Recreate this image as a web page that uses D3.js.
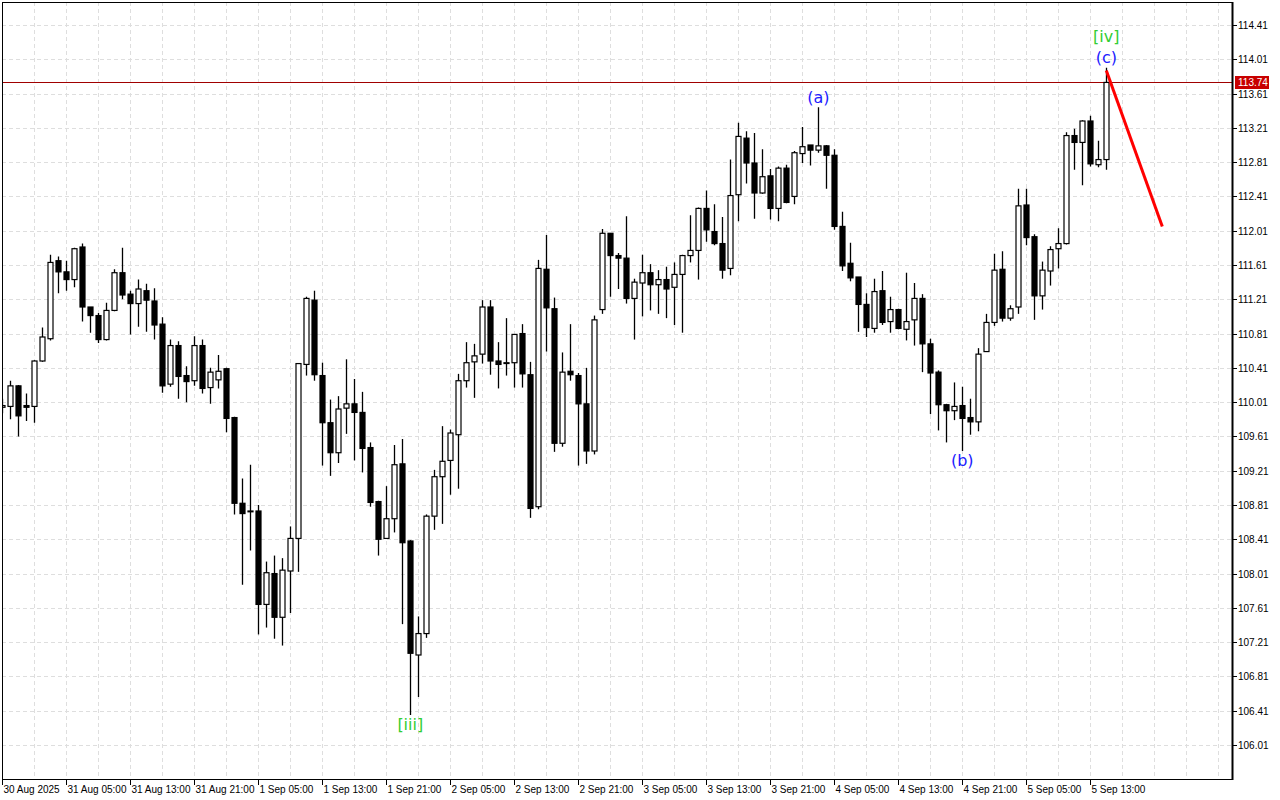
<!DOCTYPE html>
<html><head><meta charset="utf-8">
<script src="https://cdn.jsdelivr.net/npm/d3@7"></script>
<style>html,body{margin:0;padding:0;background:#fff;} svg{display:block}</style>
</head><body><svg id="c" width="1280" height="800"></svg>
<script>
// ---- data (hourly bars) ----
const startTime = "2025-08-30T21:00:00Z";
const open = [109.95,109.96,110.20,109.97,109.96,110.49,110.75,111.66,111.53,111.44,
111.82,111.12,111.02,110.74,111.08,111.52,111.27,111.16,111.31,111.19,
110.92,110.22,110.67,110.32,110.26,110.67,110.18,110.27,110.40,109.83,
108.83,108.74,108.74,107.65,108.01,107.50,108.04,108.42,110.45,111.20,
110.32,109.77,109.42,109.94,109.99,109.89,109.48,108.85,108.42,108.65,
109.29,108.39,107.06,107.31,108.68,109.14,109.33,109.63,110.26,110.48,
110.57,111.12,110.49,110.47,110.47,110.81,110.33,108.79,111.56,111.10,
109.53,110.37,110.32,109.99,109.44,111.09,111.98,111.72,111.69,111.22,
111.40,111.52,111.38,111.44,111.35,111.50,111.72,111.78,112.27,112.00,
111.86,111.57,112.43,113.09,112.80,112.45,112.65,112.27,112.74,112.41,
112.91,113.01,112.95,113.00,112.89,112.06,111.63,111.47,111.15,110.87,
111.31,110.95,111.09,110.86,110.97,111.22,110.69,110.36,109.98,109.91,
109.97,109.83,109.78,110.60,110.94,111.56,110.99,111.12,112.31,111.94,
111.25,111.54,111.80,111.86,113.12,113.04,113.29,112.78,112.84];
const high = [110.05,110.26,110.21,110.11,110.50,110.88,111.73,111.71,111.66,111.81,
111.86,111.12,111.05,111.17,111.56,111.81,111.31,111.44,111.39,111.34,
111.00,110.74,110.72,110.43,110.78,110.74,110.41,110.56,110.41,109.84,
109.12,109.28,108.81,108.15,108.22,108.19,108.56,110.46,111.24,111.31,
110.47,110.04,110.08,110.51,110.28,110.13,109.54,108.86,109.03,109.51,
109.58,108.40,107.51,108.70,109.22,109.73,109.69,110.34,110.71,110.69,
111.20,111.20,110.71,110.99,110.80,110.92,110.48,111.67,111.96,111.23,
110.59,110.92,110.35,110.41,111.02,112.03,111.98,111.75,112.18,111.45,
111.73,111.62,111.55,111.59,111.64,111.73,112.19,112.28,112.48,112.32,
112.17,112.84,113.27,113.17,113.15,112.96,112.73,112.76,112.78,112.94,
113.22,113.01,113.45,113.01,112.96,112.23,111.87,111.47,111.28,111.45,
111.54,111.24,111.10,111.52,111.40,111.27,110.75,110.38,109.99,110.24,
110.19,110.05,110.64,111.04,111.74,111.77,111.14,112.50,112.50,111.97,
111.65,111.83,112.04,113.16,113.20,113.30,113.35,113.06,113.91];
const low = [109.88,109.81,109.61,109.79,109.77,110.48,110.73,111.28,111.31,111.35,
110.95,110.82,110.70,110.73,111.07,111.21,110.80,110.89,110.83,110.74,
110.12,110.19,110.05,110.01,110.20,110.11,109.99,110.17,109.66,108.70,
107.88,108.28,107.30,107.38,107.25,107.17,107.55,108.03,110.32,110.26,
109.27,109.15,109.30,109.64,109.33,109.19,108.79,108.22,108.42,108.49,
107.42,106.36,106.57,107.26,108.52,108.59,108.93,109.00,110.18,110.06,
110.46,110.33,110.17,110.32,110.18,110.18,108.66,108.76,110.60,109.43,
109.49,110.26,109.27,109.29,109.40,111.04,111.24,111.33,111.16,110.74,
111.01,111.08,111.04,110.99,110.91,110.82,111.64,111.44,111.88,111.84,
111.45,111.49,112.12,112.56,112.15,112.44,112.14,112.12,112.33,112.32,
112.80,112.77,112.92,112.50,112.02,111.54,111.42,110.83,110.77,110.82,
110.91,110.82,110.86,110.73,110.67,110.36,109.87,109.68,109.54,109.80,
109.44,109.63,109.67,110.60,110.90,110.95,110.96,111.04,111.84,110.97,
111.09,111.37,111.57,111.85,112.72,112.54,112.76,112.75,112.72];
const close = [109.97,110.20,109.85,109.95,110.49,110.77,111.64,111.53,111.44,111.80,
111.12,111.02,110.74,111.08,111.52,111.26,111.16,111.33,111.20,110.91,
110.20,110.67,110.31,110.25,110.67,110.17,110.36,110.37,109.82,108.83,
108.71,108.74,107.65,108.02,107.50,108.05,108.42,110.46,111.22,110.33,
109.77,109.42,109.93,109.99,109.89,109.47,108.84,108.41,108.65,109.28,
108.37,107.08,107.31,108.68,109.14,109.32,109.65,110.26,110.47,110.55,
111.12,110.49,110.45,110.47,110.80,110.34,108.77,111.57,111.11,109.53,
110.36,110.33,109.99,109.44,110.97,111.98,111.72,111.69,111.22,111.41,
111.52,111.38,111.44,111.33,111.50,111.72,111.78,112.27,112.02,111.86,
111.55,112.42,113.11,112.80,112.45,112.64,112.27,112.74,112.34,112.92,
112.99,112.95,113.00,112.89,112.06,111.60,111.46,111.15,110.88,111.30,
110.94,111.09,110.87,110.95,111.22,110.69,110.35,109.98,109.91,109.96,
109.82,109.78,110.57,110.94,111.55,110.99,111.10,112.30,111.93,111.25,
111.55,111.79,111.86,113.12,113.04,113.29,112.79,112.84,113.74];

const yTickValues = [106.01,106.41,106.81,107.21,107.61,108.01,108.41,108.81,109.21,109.61,110.01,
110.41,110.81,111.21,111.61,112.01,112.41,112.81,113.21,113.61,114.01,114.41];
const xTickLabels = ["30 Aug 2025","31 Aug 05:00","31 Aug 13:00","31 Aug 21:00","1 Sep 05:00","1 Sep 13:00",
"1 Sep 21:00","2 Sep 05:00","2 Sep 13:00","2 Sep 21:00","3 Sep 05:00","3 Sep 13:00","3 Sep 21:00",
"4 Sep 05:00","4 Sep 13:00","4 Sep 21:00","5 Sep 05:00","5 Sep 13:00"];
const currentPrice = 113.74;

const waveText  = ["[iii]","(a)","(b)","(c)","[iv]"];
const waveBar   = [51,102,120,138,138];
const waveSide  = ["below","above","below","above","above"];
const waveLevel = [0,0,0,0,1];
const waveColor = ["#32cd32","#2020ff","#2020ff","#2020ff","#32cd32"];

const projBars   = [138,145];
const projPrices = [113.88,112.06];

// ---- layout ----
const L = 2, R = 1232, T = 2, B = 779;
const HOUR = 3600e3;
const t0 = new Date(startTime);
const barTime = i => new Date(+t0 + i*HOUR);

const x = d3.scaleUtc().domain([t0, barTime(150)]).range([2.3, 1202.3]);
const y = d3.scaleLinear().domain([106.01, 114.41]).range([745, 25]);

const svg = d3.select("#c");
svg.append("defs").append("clipPath").attr("id","clip")
  .append("rect").attr("x",L+0.5).attr("y",T).attr("width",R-L-0.5).attr("height",B-T);

const plot = svg.append("g").attr("clip-path","url(#clip)");

// grid
const gridCol = "#dedede";
const vgrid = d3.range(0, 40).map(k => barTime(4*k)).filter(t => x(t) < R);
plot.append("g").selectAll("line").data(vgrid).join("line")
  .attr("x1", d => Math.round(x(d))+0.5).attr("x2", d => Math.round(x(d))+0.5)
  .attr("y1", T).attr("y2", B)
  .attr("stroke", gridCol).attr("stroke-dasharray","4,3");
plot.append("g").selectAll("line").data(yTickValues).join("line")
  .attr("x1", L).attr("x2", R)
  .attr("y1", d => Math.round(y(d))+0.5).attr("y2", d => Math.round(y(d))+0.5)
  .attr("stroke", gridCol).attr("stroke-dasharray","4,3");

// current price line
plot.append("line").attr("x1",L).attr("x2",R)
  .attr("y1",Math.round(y(currentPrice))+0.5).attr("y2",Math.round(y(currentPrice))+0.5)
  .attr("stroke","#a00000").attr("stroke-width",1);

// candles
const bars = d3.range(open.length).map(i => ({i, t: barTime(i), o: open[i], h: high[i], l: low[i], c: close[i]}));
const cg = plot.append("g").selectAll("g").data(bars).join("g");
cg.append("line")
  .attr("x1", d => Math.round(x(d.t))+0.5).attr("x2", d => Math.round(x(d.t))+0.5)
  .attr("y1", d => y(d.h)).attr("y2", d => y(d.l))
  .attr("stroke","#000").attr("stroke-width",1.3);
cg.append("rect")
  .attr("x", d => Math.round(x(d.t))-2.5+0.5)
  .attr("width", 5)
  .attr("y", d => y(Math.max(d.o,d.c)))
  .attr("height", d => Math.max(0.8, Math.abs(y(d.o)-y(d.c))))
  .attr("fill", d => d.c >= d.o ? "#fff" : "#000")
  .attr("stroke","#000").attr("stroke-width",1.2);

// projection line
plot.append("line")
  .attr("x1", x(barTime(projBars[0]))).attr("y1", y(projPrices[0]))
  .attr("x2", x(barTime(projBars[1]))).attr("y2", y(projPrices[1]))
  .attr("stroke","#ff0000").attr("stroke-width",3);

// wave labels
svg.append("g").selectAll("text").data(waveText).join("text")
  .attr("x", (d,k) => x(barTime(waveBar[k])))
  .attr("y", (d,k) => waveSide[k] === "above"
      ? y(high[waveBar[k]]) - 10 - waveLevel[k]*21
      : y(low[waveBar[k]]) + 9)
  .attr("text-anchor","middle").attr("dominant-baseline","central")
  .attr("font-family","DejaVu Sans, sans-serif").attr("font-size",16)
  .attr("fill",(d,k) => waveColor[k])
  .text(d => d);

// frame
svg.append("line").attr("x1",L).attr("x2",R).attr("y1",T+0.5).attr("y2",T+0.5).attr("stroke","#000");
svg.append("line").attr("x1",L+0.5).attr("x2",L+0.5).attr("y1",T).attr("y2",B).attr("stroke","#000");
svg.append("line").attr("x1",L).attr("x2",R+1).attr("y1",B+0.5).attr("y2",B+0.5).attr("stroke","#000");
svg.append("line").attr("x1",R+0.5).attr("x2",R+0.5).attr("y1",T).attr("y2",B+1).attr("stroke","#000").attr("stroke-width",2);

// right axis
const ya = svg.append("g").attr("font-family","Liberation Sans, Arial, sans-serif").attr("font-size",10);
yTickValues.forEach(v => {
  const yy = Math.round(y(v))+0.5;
  ya.append("line").attr("x1",R).attr("x2",R+5).attr("y1",yy).attr("y2",yy).attr("stroke","#000");
  ya.append("text").attr("x",R+6).attr("y",yy).attr("dominant-baseline","central").attr("fill","#000").text(v.toFixed(2));
});
// current price tag
const cy = Math.round(y(currentPrice))+0.5;
ya.append("rect").attr("x",R+3).attr("y",cy-6.5).attr("width",34).attr("height",13).attr("fill","#c80000");
ya.append("text").attr("x",R+6).attr("y",cy).attr("dominant-baseline","central").attr("fill","#fff").text(currentPrice.toFixed(2));

// bottom axis
const xa = svg.append("g").attr("font-family","Liberation Sans, Arial, sans-serif").attr("font-size",10);
xTickLabels.forEach((lab,k) => {
  const xx = Math.round(x(barTime(8*k)))+0.5;
  xa.append("line").attr("x1",xx).attr("x2",xx).attr("y1",B).attr("y2",B+6).attr("stroke","#000");
  xa.append("text").attr("x",xx+1).attr("y",B+14).attr("fill","#000").text(lab);
});
</script>
</body></html>
